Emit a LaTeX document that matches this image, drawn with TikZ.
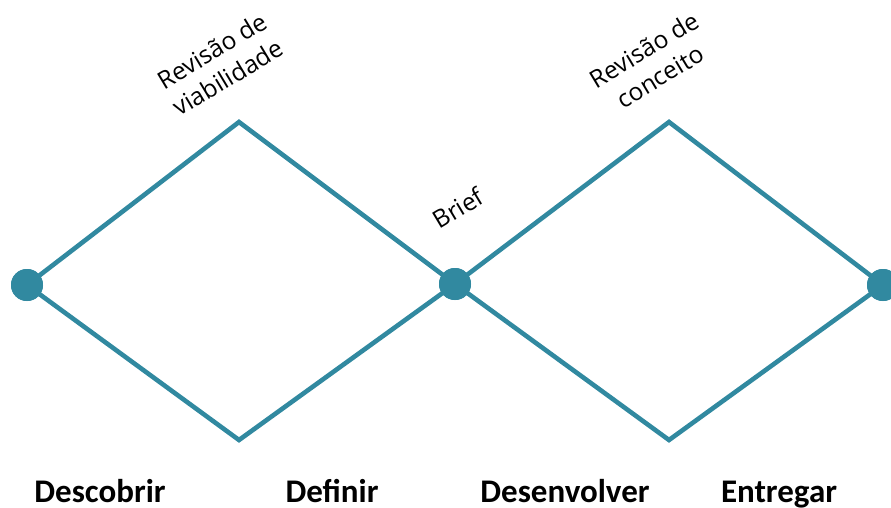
\documentclass[tikz,border=0pt]{standalone}
\usepackage{fontspec}
\setmainfont{Carlito}
\newfontfamily\notefont{Open Sans}
\definecolor{teal}{RGB}{49,137,160}
\begin{document}
\begin{tikzpicture}[x=1pt,y=-1pt,
  edge/.style={draw=teal,line width=4.6pt},
  dot/.style={circle,fill=teal,inner sep=0pt,minimum size=32pt},
  phase/.style={font=\fontsize{33}{36}\selectfont\bfseries,anchor=base},
  note/.style={font=\notefont\fontsize{24.5}{31}\selectfont,rotate=31,align=center}]
\useasboundingbox (0,0) rectangle (891,507);
% vertices of the double diamond
\node[dot] (start) at (27,285) {};
\node[dot] (mid) at (455,284) {};
\node[dot] (end) at (883,285) {};
\coordinate (top1) at (239,122);
\coordinate (bot1) at (239,440);
\coordinate (top2) at (669,122);
\coordinate (bot2) at (669,440);
% first diamond
\draw[edge,line join=miter] (start.center) -- (top1) -- (mid.center) -- (bot1) -- cycle;
% second diamond
\draw[edge,line join=miter] (mid.center) -- (top2) -- (end.center) -- (bot2) -- cycle;
\node[dot] at (start) {};
\node[dot] at (mid) {};
\node[dot] at (end) {};
% review labels
\node[note] (rev1) at (220,64) {Revisão de\\viabilidade};
\node[note] (rev2) at (652,63) {Revisão de\\conceito};
\node[note] (brief) at (458,208) {Brief};
% phase labels
\node[phase] (p1) at (100,502) {Descobrir};
\node[phase] (p2) at (332,502) {Definir};
\node[phase] (p3) at (565,502) {Desenvolver};
\node[phase] (p4) at (779,502) {Entregar};
\end{tikzpicture}
\end{document}
